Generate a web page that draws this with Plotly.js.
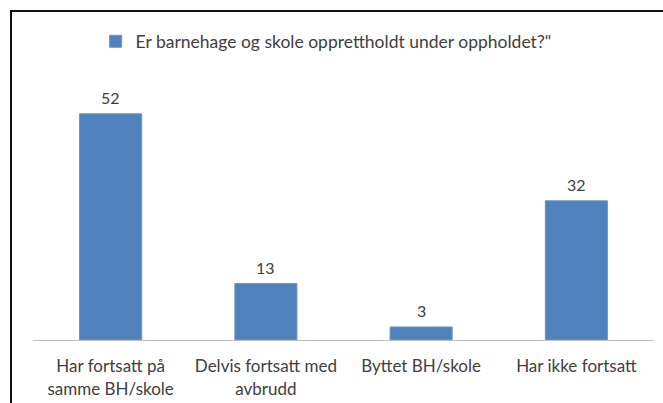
<!DOCTYPE html>
<html>
<head>
<meta charset="utf-8">
<script src="https://cdn.plot.ly/plotly-3.0.1.min.js"></script>
<style>
html,body{margin:0;padding:0;background:#fff;}
#chart{width:663px;height:403px;}
</style>
</head>
<body>
<div id="chart"></div>
<script>
const categories = [
  "Har fortsatt på<br>samme BH/skole",
  "Delvis fortsatt med<br>avbrudd",
  "Byttet BH/skole",
  "Har ikke fortsatt"
];
const values = [52, 13, 3, 32];
const seriesName = 'Er barnehage og skole opprettholdt under oppholdet?"';

const font = "Lato, 'Open Sans', sans-serif";

const trace = {
  type: 'bar',
  x: categories,
  y: values,
  name: seriesName,
  marker: {color: '#4F81BD', line: {color: '#6a96cc', width: 1}},
  width: 0.4,
  showlegend: true,
  hoverinfo: 'none'
};

const annotations = categories.map((c, i) => ({
  x: c,
  y: values[i],
  xref: 'x', yref: 'y',
  text: String(values[i]),
  showarrow: false,
  yanchor: 'middle',
  yshift: 16,
  font: {family: font, size: 16, color: '#404040'}
}));

const layout = {
  width: 663,
  height: 403,
  margin: {l: 33, r: 9, t: 79, b: 63},
  paper_bgcolor: '#ffffff',
  plot_bgcolor: '#ffffff',
  font: {family: font, size: 16, color: '#404040'},
  showlegend: true,
  legend: {
    orientation: 'h',
    x: 0.472, xanchor: 'center',
    y: 1.144, yanchor: 'middle',
    font: {family: font, size: 17.5, color: '#404040'},
    itemwidth: 30
  },
  xaxis: {
    showline: true,
    linecolor: '#bfbfbf',
    linewidth: 1,
    ticks: '',
    showgrid: false,
    ticklabelstandoff: 11,
    tickfont: {family: font, size: 17, color: '#404040'},
    fixedrange: true
  },
  yaxis: {
    visible: false,
    range: [0, 60],
    showgrid: false,
    zeroline: false,
    fixedrange: true
  },
  annotations: annotations,
  shapes: [{
    type: 'rect',
    xref: 'paper', yref: 'paper',
    x0: (11 - 33) / 621, x1: 1.2,
    y0: -0.5, y1: (340 - 11) / 261,
    line: {color: '#111111', width: 2},
    fillcolor: 'rgba(0,0,0,0)',
    layer: 'above'
  }]
};

Plotly.newPlot('chart', [trace], layout, {displayModeBar: false, staticPlot: true});
</script>
</body>
</html>
